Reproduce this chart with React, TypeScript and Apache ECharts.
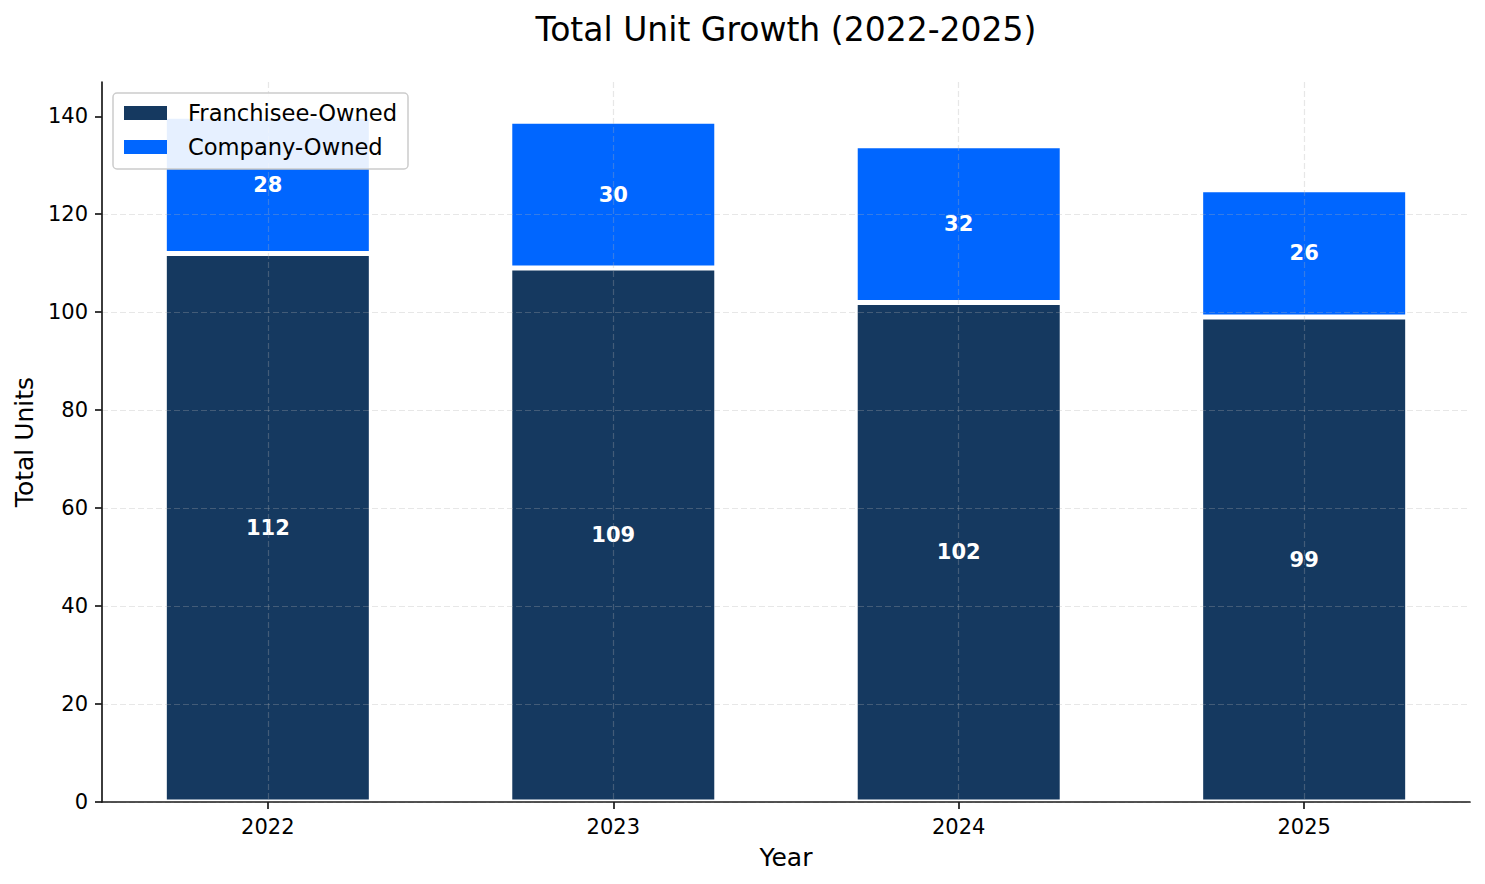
import React, { useEffect, useRef } from 'react';
import * as echarts from 'echarts';

const years = ['2022', '2023', '2024', '2025'];
const franchiseeOwned = [112, 109, 102, 99];
const companyOwned = [28, 30, 32, 26];
const yTicks = [0, 20, 40, 60, 80, 100, 120, 140];

const FONT = 'DejaVu Sans';
const NAVY = '#153960';
const BLUE = '#0066ff';
const GRID_LINE = { color: 'rgba(176,176,176,0.3)', type: [6, 3], width: 1.2 };
const SPINE = { color: '#1a1a1a', width: 1.7 };

// plot frame (spines) and the slightly wider band area that puts bar centres where matplotlib has them
const FRAME = { left: 102, right: 15, top: 82, bottom: 82 };
const BANDS = { left: 95.1, right: 8.1, top: 82, bottom: 82 };

const App: React.FC = () => {
    const chartRef = useRef<HTMLDivElement>(null);

    useEffect(() => {
        if (!chartRef.current) return;
        const chart = echarts.init(chartRef.current, undefined, { renderer: 'svg' });

        const barLabel = {
            show: true,
            position: 'inside',
            color: '#fff',
            fontWeight: 'bold',
            fontSize: 21,
            fontFamily: FONT,
        };

        chart.setOption({
            animation: false,
            backgroundColor: '#fff',
            title: {
                text: 'Total Unit Growth (2022-2025)',
                left: 781,
                top: 8,
                textAlign: 'center',
                textStyle: { fontFamily: FONT, fontSize: 33, fontWeight: 'normal', color: '#000' },
            },
            legend: {
                orient: 'vertical',
                left: 113,
                top: 93,
                padding: [8, 11, 10, 11],
                itemGap: 10,
                itemWidth: 43,
                itemHeight: 14,
                icon: 'rect',
                backgroundColor: 'rgba(255,255,255,0.9)',
                borderColor: '#cccccc',
                borderWidth: 1.5,
                borderRadius: 4,
                itemStyle: { borderWidth: 0 },
                textStyle: {
                    fontFamily: FONT,
                    fontSize: 22.6,
                    lineHeight: 24,
                    color: '#000',
                    padding: [0, 0, 0, 16],
                },
                data: ['Franchisee-Owned', 'Company-Owned'],
            },
            grid: [
                { ...BANDS, containLabel: false },
                { ...FRAME, containLabel: false },
            ],
            xAxis: [
                {
                    type: 'category',
                    gridIndex: 0,
                    data: years,
                    z: 3,
                    name: 'Year',
                    nameLocation: 'middle',
                    nameGap: 43,
                    nameTextStyle: { fontFamily: FONT, fontSize: 25, color: '#000' },
                    axisLine: { show: false },
                    axisTick: { show: true, alignWithLabel: true, length: 7, lineStyle: SPINE },
                    axisLabel: { fontFamily: FONT, fontSize: 21, color: '#000', margin: 14 },
                    splitLine: { show: true, alignWithLabel: true, lineStyle: GRID_LINE },
                },
                {
                    type: 'value',
                    gridIndex: 1,
                    min: 0,
                    max: 1,
                    z: 3,
                    axisLine: { show: true, onZero: false, lineStyle: SPINE },
                    axisTick: { show: false },
                    axisLabel: { show: false },
                    splitLine: { show: false },
                },
            ],
            yAxis: [
                {
                    type: 'value',
                    gridIndex: 0,
                    min: 0,
                    max: 147,
                    show: false,
                    splitLine: { show: false },
                },
                {
                    type: 'value',
                    gridIndex: 1,
                    min: 0,
                    max: 147,
                    interval: 20,
                    z: 3,
                    name: 'Total Units',
                    nameLocation: 'middle',
                    nameGap: 64,
                    nameTextStyle: { fontFamily: FONT, fontSize: 25, color: '#000' },
                    axisLine: { show: true, onZero: false, lineStyle: SPINE },
                    axisTick: { show: true, length: 7, lineStyle: SPINE, customValues: yTicks },
                    axisLabel: { fontFamily: FONT, fontSize: 21, color: '#000', margin: 14, customValues: yTicks },
                    splitLine: { show: true, showMaxLine: false, lineStyle: GRID_LINE },
                },
            ],
            series: [
                {
                    name: 'Franchisee-Owned',
                    type: 'bar',
                    xAxisIndex: 0,
                    yAxisIndex: 0,
                    stack: 'total',
                    barWidth: 207,
                    data: franchiseeOwned,
                    itemStyle: { color: NAVY, borderColor: '#fff', borderWidth: 2.5 },
                    label: barLabel,
                },
                {
                    name: 'Company-Owned',
                    type: 'bar',
                    xAxisIndex: 0,
                    yAxisIndex: 0,
                    stack: 'total',
                    barWidth: 207,
                    data: companyOwned,
                    itemStyle: { color: BLUE, borderColor: '#fff', borderWidth: 2.5 },
                    label: barLabel,
                },
            ],
        });

        return () => {
            chart.dispose();
        };
    }, []);

    return (
        <div
            ref={chartRef}
            style={{ position: 'absolute', left: 0, top: 0, width: '1485px', height: '884px' }}
        />
    );
};

export default App;
